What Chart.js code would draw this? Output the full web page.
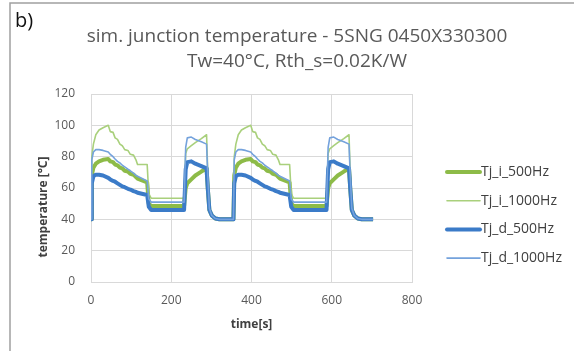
<!DOCTYPE html>
<html>
<head>
<meta charset="utf-8">
<script src="https://cdn.jsdelivr.net/npm/chart.js@4.4.1/dist/chart.umd.min.js"></script>
<style>
  html, body { margin: 0; padding: 0; background: #fff; }
</style>
</head>
<body>
<canvas id="tjChart" width="574" height="351"></canvas>
<script>
// simulated time points [s], two load cycles
const time = [
  0, 2, 6, 12, 20, 30, 43, 48, 55, 60, 66, 72, 78, 84, 92, 98, 106, 112, 116, 140, 144,
  150, 232, 236, 240, 250, 260, 275, 288, 291, 295, 301, 310, 320,
  355, 357, 361, 367, 375, 385, 398, 403, 410, 415, 421, 427, 433, 439, 447, 453, 461, 467, 471, 495, 499,
  505, 587, 591, 595, 605, 615, 630, 643, 646, 650, 656, 665, 675, 703
];

const tjI500 = [
  40, 68, 73, 75.5, 77, 78, 78.5, 77, 76.5, 75, 74.5, 73, 72.5, 71, 70.5, 69, 68.5, 67, 66, 63.5, 50,
  48.5, 48.5, 60, 63, 65.5, 68, 70.5, 72.5, 60, 46, 42.5, 40.5, 40,
  40, 68, 73, 75.5, 77, 78, 78.5, 77, 76.5, 75, 74.5, 73, 72.5, 71, 70.5, 69, 68.5, 67, 66, 63.5, 50,
  48.5, 48.5, 60, 63, 65.5, 68, 70.5, 72.5, 60, 46, 42.5, 40.5, 40, 40
];

const tjI1000 = [
  40, 80, 88, 94, 97, 98.5, 100, 96, 95.5, 92, 91, 88, 87, 84.5, 84, 81.5, 81, 78, 75, 75, 56,
  53.5, 53.5, 82, 85, 87, 89, 91.5, 94, 70, 48, 43, 40.5, 40,
  40, 80, 88, 94, 97, 98.5, 100, 96, 95.5, 92, 91, 88, 87, 84.5, 84, 81.5, 81, 78, 75, 75, 56,
  53.5, 53.5, 82, 85, 87, 89, 91.5, 94, 70, 48, 43, 40.5, 40, 40
];

const tjD500 = [
  40, 63, 67.5, 68.5, 68.5, 68, 66.5, 65.5, 64.5, 64, 63, 62, 61, 60.5, 59.5, 59, 58, 57.5, 57, 55.5, 48,
  46, 46, 72, 76.5, 77, 75.5, 74, 72.5, 60, 46, 42.5, 40.5, 40,
  40, 63, 67.5, 68.5, 68.5, 68, 66.5, 65.5, 64.5, 64, 63, 62, 61, 60.5, 59.5, 59, 58, 57.5, 57, 55.5, 48,
  46, 46, 72, 76.5, 77, 75.5, 74, 72.5, 60, 46, 42.5, 40.5, 40, 40
];

const tjD1000 = [
  40, 78, 83, 84.5, 84.5, 84, 83, 81.5, 80, 78.5, 77, 76, 74.5, 73.5, 72, 71, 69.5, 68, 67.5, 64.5, 53,
  51, 51, 86, 92, 92.5, 91, 89.5, 88, 68, 47, 42.5, 40.5, 40,
  40, 78, 83, 84.5, 84.5, 84, 83, 81.5, 80, 78.5, 77, 76, 74.5, 73.5, 72, 71, 69.5, 68, 67.5, 64.5, 53,
  51, 51, 86, 92, 92.5, 91, 89.5, 88, 68, 47, 42.5, 40.5, 40, 40
];

const seriesNames = ['Tj_i_500Hz', 'Tj_i_1000Hz', 'Tj_d_500Hz', 'Tj_d_1000Hz'];
const seriesValues = [tjI500, tjI1000, tjD500, tjD1000];
const seriesColors = ['#8dbb48', '#a9d07c', '#3b7bc8', '#74a2dc'];
const seriesWidths = [4, 1.6, 4, 1.6];

const xTicks = [0, 200, 400, 600, 800];
const yTicks = [0, 20, 40, 60, 80, 100, 120];

const FONT = '"Open Sans", sans-serif';

// frame, panel letter, y title and legend
const extras = {
  id: 'extras',
  beforeDraw(chart) {
    const ctx = chart.ctx;
    ctx.save();
    ctx.fillStyle = '#fff';
    ctx.fillRect(0, 0, chart.width, chart.height);
    ctx.strokeStyle = '#a0a0a0';
    ctx.lineWidth = 1.5;
    ctx.beginPath();
    ctx.moveTo(10, chart.height);
    ctx.lineTo(10, 3);
    ctx.lineTo(chart.width, 3);
    ctx.stroke();
    ctx.restore();
  },
  afterDraw(chart) {
    const ctx = chart.ctx;
    ctx.save();
    ctx.fillStyle = '#111';
    ctx.font = '20px ' + FONT;
    ctx.textBaseline = 'middle';
    ctx.fillText('b)', 15, 21);

    ctx.save();
    ctx.translate(44, 207);
    ctx.rotate(-Math.PI / 2);
    ctx.font = 'bold 12px ' + FONT;
    ctx.fillStyle = '#404040';
    ctx.textAlign = 'center';
    ctx.fillText('temperature [°C]', 0, 0);
    ctx.restore();

    ctx.font = '14px ' + FONT;
    ctx.fillStyle = '#404040';
    ctx.textAlign = 'left';
    chart.data.datasets.forEach((ds, i) => {
      const y = 172 + i * 28.7;
      ctx.strokeStyle = ds.borderColor;
      ctx.lineWidth = ds.borderWidth;
      ctx.lineCap = 'round';
      ctx.beginPath();
      ctx.moveTo(447, y);
      ctx.lineTo(480, y);
      ctx.stroke();
      ctx.fillText(ds.label, 481, y);
    });
    ctx.restore();
  }
};

const ctx = document.getElementById('tjChart').getContext('2d');
new Chart(ctx, {
  type: 'line',
  data: {
    datasets: seriesNames.map((name, i) => ({
      label: name,
      data: time.map((t, k) => ({ x: t, y: seriesValues[i][k] })),
      borderColor: seriesColors[i],
      backgroundColor: seriesColors[i],
      borderWidth: seriesWidths[i],
      pointRadius: 0,
      tension: 0,
      borderJoinStyle: 'round',
      fill: false,
      order: 4 - i
    }))
  },
  options: {
    responsive: false,
    animation: false,
    layout: {
      padding: { left: 20, right: 0, top: 0, bottom: 15 }
    },
    plugins: {
      legend: { display: false },
      tooltip: { enabled: false },
      title: {
        display: true,
        text: ['sim. junction temperature - 5SNG 0450X330300', 'Tw=40°C, Rth_s=0.02K/W'],
        color: '#595959',
        font: { family: FONT, size: 19, weight: 'normal', lineHeight: 1.316 },
        padding: { top: 24, bottom: 20 }
      }
    },
    scales: {
      x: {
        type: 'linear',
        min: 0,
        max: 800,
        afterBuildTicks: (scale) => { scale.ticks = xTicks.map(v => ({ value: v })); },
        afterFit: (scale) => { scale.height = 54; },
        ticks: { color: '#595959', font: { family: FONT, size: 12 }, padding: 11 },
        grid: { color: '#d9d9d9', drawTicks: false },
        border: { color: '#d9d9d9' },
        title: {
          display: true,
          text: 'time[s]',
          color: '#404040',
          font: { family: FONT, size: 12, weight: 'bold' }
        }
      },
      y: {
        min: 0,
        max: 120,
        afterBuildTicks: (scale) => { scale.ticks = yTicks.map(v => ({ value: v })); },
        afterFit: (scale) => { scale.width = 71; },
        ticks: { color: '#595959', font: { family: FONT, size: 12 }, padding: 16 },
        grid: { color: '#d9d9d9', drawTicks: false },
        border: { color: '#d9d9d9' }
      },
      yRight: {
        position: 'right',
        display: true,
        afterFit: (scale) => { scale.width = 162; },
        ticks: { display: false },
        grid: { display: false },
        border: { display: false }
      }
    }
  },
  plugins: [extras]
});
</script>
</body>
</html>
